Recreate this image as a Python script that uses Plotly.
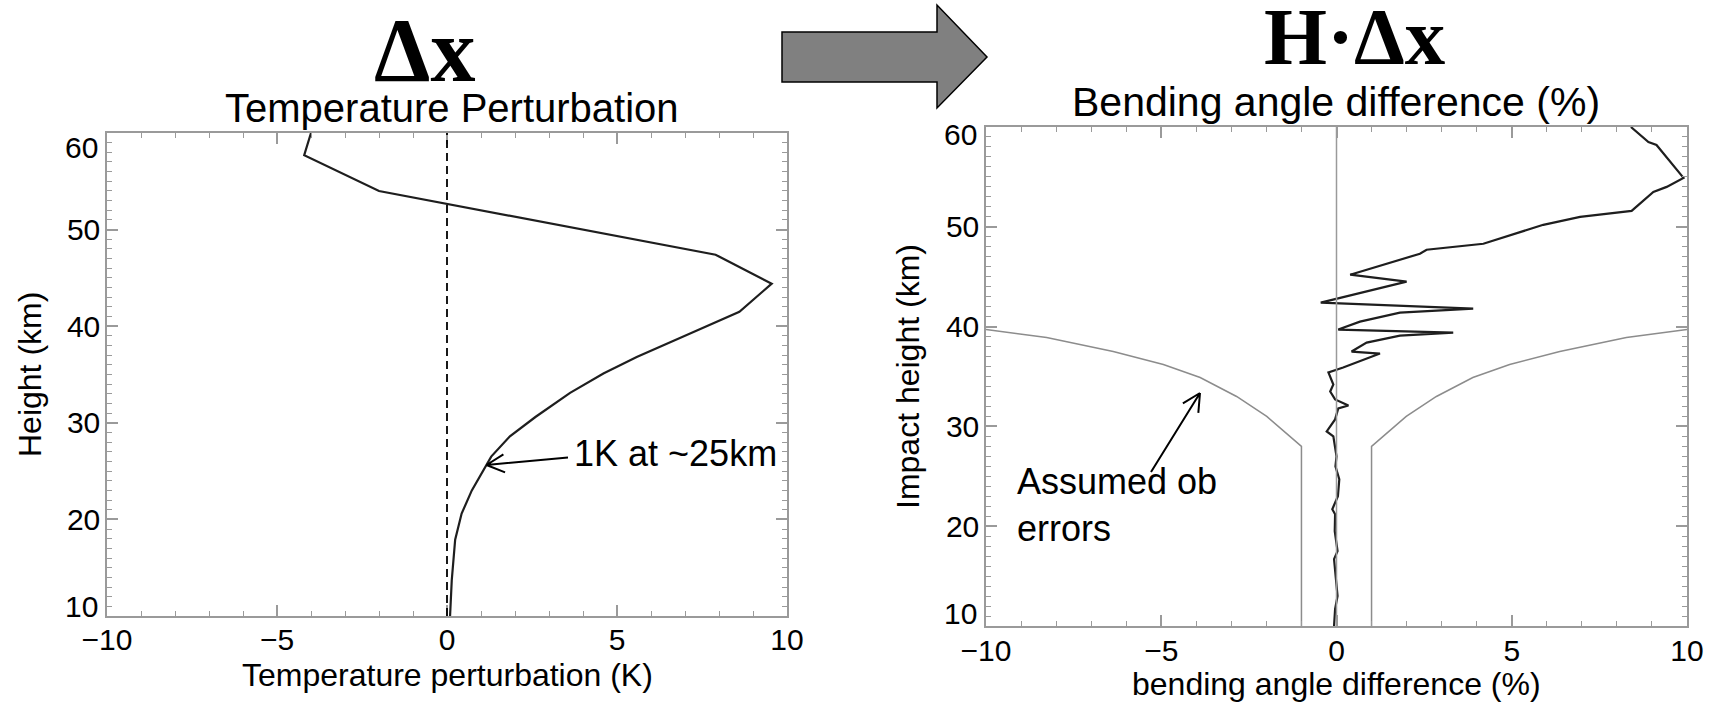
import math
import plotly.graph_objects as go

# ---------------- data ----------------
temp_height_km = [60.0, 57.7, 54.0, 47.4, 44.4, 41.5, 39.1, 36.8, 35.1, 33.1, 30.6,
                  28.6, 26.5, 24.9, 23.0, 20.6, 17.9, 13.7, 10.0]
temp_pert_k = [-4.0, -4.2, -2.0, 7.9, 9.55, 8.6, 7.05, 5.58, 4.6, 3.62, 2.6,
               1.85, 1.3, 1.05, 0.73, 0.43, 0.24, 0.14, 0.09]

bend_height_km = [60.0, 58.5, 58.2, 54.9, 54.0, 53.5, 51.6, 51.0, 50.2, 48.3, 47.7, 47.3,
                  45.2, 44.5, 42.4, 41.8, 41.4, 40.5, 39.7, 39.4, 39.1, 38.4, 37.5, 37.3,
                  35.9, 35.4, 34.2, 33.5, 32.7, 32.1, 31.8, 30.7, 29.5, 29.0, 27.0, 26.0,
                  24.7, 23.0, 21.7, 21.2, 19.5, 18.7, 17.5, 16.7, 15.5, 14.4, 13.0, 11.7, 10.0]
bend_diff_pct = [8.40, 8.90, 9.13, 9.90, 9.42, 9.04, 8.42, 6.95, 5.90, 4.19, 2.57, 2.38,
                 0.39, 2.0, -0.45, 3.90, 1.81, 0.67, 0.05, 3.33, 1.81, 0.86, 0.43, 1.24,
                 0.19, -0.23, -0.09, -0.18, -0.04, 0.34, 0.05, -0.04, -0.28, -0.09, 0.0, -0.03,
                 0.08, 0.04, -0.12, -0.04, -0.05, -0.01, 0.03, -0.07, -0.04, 0.0, 0.03, -0.04, -0.07]

err_height_km = [10.0, 28.0, 29.0, 31.0, 33.0, 34.9, 36.2, 37.5, 38.9, 39.7]
err_pct = [1.0, 1.0, 1.33, 1.99, 2.85, 3.89, 4.94, 6.37, 8.27, 10.0]

x_tick_vals = [-10, -5, 0, 5, 10]
y_tick_vals = [20, 30, 40, 50]
y_edge_labels = ["10", "60"]

# ---------------- layout helpers ----------------
W, H = 1720, 702
GRAY = "#9a9a9a"
SANS = "Liberation Sans, Arial, sans-serif"
SERIF = "Liberation Serif, Times New Roman, serif"


def px(x):
    return x / W


def py(y):
    return 1 - y / H


# plot frames in pixels (left, top, right, bottom)
L_FRAME = (107, 133, 787, 616)
R_FRAME = (986, 127, 1687, 626)


def axis_common():
    return dict(
        showline=True, linecolor=GRAY, linewidth=1.5, mirror="ticks",
        ticks="inside", ticklen=11, tickwidth=1.5, tickcolor=GRAY,
        showgrid=False, zeroline=False, automargin=False,
        tickfont=dict(family=SANS, size=30, color="black"),
    )


def minor():
    return dict(ticks="inside", ticklen=5, tickwidth=1, tickcolor=GRAY,
                tickmode="linear", tick0=0, dtick=1)


fig = go.Figure()

# left panel
fig.add_trace(go.Scatter(x=temp_pert_k, y=temp_height_km, mode="lines",
                         line=dict(color="#1e1e1e", width=2.2),
                         xaxis="x", yaxis="y", showlegend=False))
# right panel
fig.add_trace(go.Scatter(x=err_pct, y=err_height_km, mode="lines",
                         line=dict(color="#8c8c8c", width=1.5),
                         xaxis="x2", yaxis="y2", showlegend=False))
fig.add_trace(go.Scatter(x=[-v for v in err_pct], y=err_height_km, mode="lines",
                         line=dict(color="#8c8c8c", width=1.5),
                         xaxis="x2", yaxis="y2", showlegend=False))
fig.add_trace(go.Scatter(x=bend_diff_pct, y=bend_height_km, mode="lines",
                         line=dict(color="#1e1e1e", width=2.2),
                         xaxis="x2", yaxis="y2", showlegend=False))

xa = axis_common()
xa.update(domain=[px(L_FRAME[0]), px(L_FRAME[2])], anchor="y", range=[-10, 10],
          tickmode="array", tickvals=x_tick_vals, ticklabelstandoff=-4, minor=minor())
ya = axis_common()
ya.update(domain=[py(L_FRAME[3]), py(L_FRAME[1])], anchor="x", range=[10, 60],
          tickmode="array", tickvals=y_tick_vals, ticklabelstandoff=-1, minor=minor())
xa2 = axis_common()
xa2.update(domain=[px(R_FRAME[0]), px(R_FRAME[2])], anchor="y2", range=[-10, 10],
           tickmode="array", tickvals=x_tick_vals, ticklabelstandoff=-3, minor=minor())
ya2 = axis_common()
ya2.update(domain=[py(R_FRAME[3]), py(R_FRAME[1])], anchor="x2", range=[10, 60],
           tickmode="array", tickvals=y_tick_vals, ticklabelstandoff=-1, minor=minor())

shapes = []
# dashed zero line (left) and solid zero line (right)
shapes.append(dict(type="line", xref="x", yref="y domain", x0=0, x1=0, y0=0, y1=1,
                   line=dict(color="black", width=1.8, dash="8px,5px")))
shapes.append(dict(type="line", xref="x2", yref="y2 domain", x0=0, x1=0, y0=0, y1=1,
                   line=dict(color=GRAY, width=1.5)))

# big grey arrow between panels
arrow_pts = [(782, 32), (937, 32), (937, 5), (987, 57), (937, 108), (937, 82), (782, 82)]
path = "M " + " L ".join(f"{px(x):.5f},{py(y):.5f}" for x, y in arrow_pts) + " Z"
shapes.append(dict(type="path", xref="paper", yref="paper", path=path,
                   fillcolor="#808080", line=dict(color="black", width=1.5)))


def open_arrow(tail, head, barb=20, spread=27):
    (tx, ty), (hx, hy) = tail, head
    ang = math.atan2(ty - hy, tx - hx)
    segs = [f"M {px(tx):.5f},{py(ty):.5f} L {px(hx):.5f},{py(hy):.5f}"]
    for s in (-1, 1):
        a = ang + s * math.radians(spread)
        bx, by = hx + barb * math.cos(a), hy + barb * math.sin(a)
        segs.append(f"M {px(bx):.5f},{py(by):.5f} L {px(hx):.5f},{py(hy):.5f}")
    return dict(type="path", xref="paper", yref="paper", path=" ".join(segs),
                line=dict(color="black", width=2))


shapes.append(open_arrow((568, 457.5), (486.5, 465)))
shapes.append(open_arrow((1151, 472), (1200, 393)))

annotations = []


def txt(text, x, y, size, family=SANS, xanchor="center", yanchor="middle",
        angle=0, weight="normal", align="center"):
    annotations.append(dict(text=text, x=px(x), y=py(y), xref="paper", yref="paper",
                            showarrow=False, xanchor=xanchor, yanchor=yanchor,
                            textangle=angle, align=align,
                            font=dict(family=family, size=size, color="black", weight=weight)))


txt("Δx", 424, 51, 90, family=SERIF, weight="bold")
txt("H·Δx", 1355, 37, 81, family=SERIF, weight="bold")
txt("Temperature Perturbation", 452, 108, 40)
txt("Bending angle difference (%)", 1336, 102, 41)
txt("Temperature perturbation (K)", 447, 675, 32)
txt("bending angle difference (%)", 1336, 684, 32)
txt("Height (km)", 30, 375, 32, angle=-90)
txt("Impact height (km)", 908, 377, 32, angle=-90)
txt("1K at ~25km", 572, 453, 36, xanchor="left")
txt("Assumed ob<br>errors", 1015, 505, 36, xanchor="left", align="left")
# edge y labels (shifted inside the frame as in the reference)
txt(y_edge_labels[1], 100, 147, 30, xanchor="right")
txt(y_edge_labels[0], 100, 606, 30, xanchor="right")
txt(y_edge_labels[1], 979, 134, 30, xanchor="right")
txt(y_edge_labels[0], 979, 613, 30, xanchor="right")

fig.update_layout(
    width=W, height=H, autosize=False,
    margin=dict(l=0, r=0, t=0, b=0, pad=0, autoexpand=False),
    paper_bgcolor="white", plot_bgcolor="white",
    xaxis=xa, yaxis=ya, xaxis2=xa2, yaxis2=ya2,
    shapes=shapes, annotations=annotations, showlegend=False,
)

fig.write_html("out.html", config={"displayModeBar": False},
               post_script="document.body.style.margin='0';document.body.style.overflow='hidden';")
